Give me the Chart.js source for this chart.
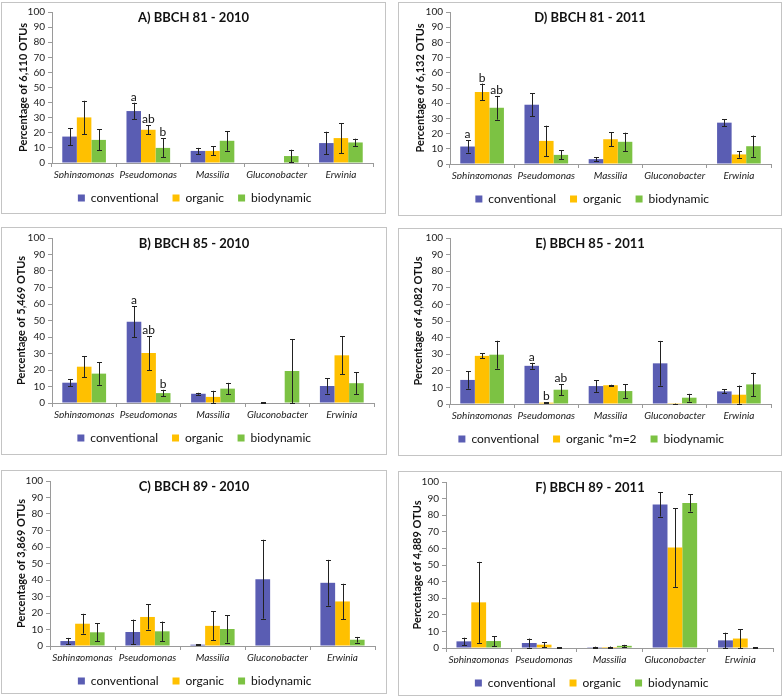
<!DOCTYPE html>
<html>
<head>
<meta charset="utf-8">
<script src="https://cdn.jsdelivr.net/npm/chart.js@4.4.1/dist/chart.umd.min.js"></script>
<style>
  body { margin: 0; background: #fff; width: 783px; height: 699px; position: relative; overflow: hidden; }
  .panel { position: absolute; border: 1px solid #c4c4c4; box-sizing: border-box; background: #fff; }
  .panel canvas { position: absolute; left: 0; top: 0; }
</style>
</head>
<body>
<script>
const categories = ['Sphingomonas', 'Pseudomonas', 'Massilia', 'Gluconobacter', 'Erwinia'];
const seriesNames = ['conventional', 'organic', 'biodynamic'];
const seriesNamesE = ['conventional', 'organic *m=2', 'biodynamic'];
const yTicks = [0, 10, 20, 30, 40, 50, 60, 70, 80, 90, 100];

// A) BBCH 81 - 2010
const convA = [17.5, 34.4, 8, 0, 13.2];
const orgA = [30.2, 22, 8, 0, 16.5];
const bioA = [15.3, 10, 14.7, 4.6, 13.6];
const convErrA = [5.7, 5.5, 2, 0, 7.5];
const orgErrA = [11, 3, 3, 0, 10];
const bioErrA = [7, 6.3, 6.5, 4.2, 2.5];
const lettersA = [null, ['a', 'ab', 'b'], null, null, null];

// D) BBCH 81 - 2011
const convD = [11.5, 39, 3.2, 0, 27.2];
const orgD = [47.4, 15.2, 16.3, 0, 6.3];
const bioD = [37, 6, 14.6, 0, 11.7];
const convErrD = [4, 7.5, 1.3, 0, 2.2];
const orgErrD = [5.5, 10, 4.5, 0, 2.2];
const bioErrD = [7.8, 3, 6, 0, 7];
const lettersD = [['a', 'b', 'ab'], null, null, null, null];

// B) BBCH 85 - 2010
const convB = [12.3, 49.3, 5.6, 0.3, 10.3];
const orgB = [22, 30.3, 3.7, 0, 28.9];
const bioB = [17.8, 6, 8.7, 19.4, 12];
const convErrB = [2, 9.3, 0.6, 0.3, 4.6];
const orgErrB = [6.5, 10.3, 3.7, 0, 11.5];
const bioErrB = [6.8, 2, 3.5, 19.4, 6.5];
const lettersB = [null, ['a', 'ab', 'b'], null, null, null];

// E) BBCH 85 - 2011
const convE = [14.5, 23, 10.8, 24.5, 7.6];
const orgE = [29, 0.8, 11.3, 0.1, 5.6];
const bioE = [29.7, 8.6, 7.8, 3.8, 11.8];
const convErrE = [5.3, 1.8, 3.5, 13.5, 1.2];
const orgErrE = [1.5, 0.2, 0.3, 0.1, 5.5];
const bioErrE = [8.4, 3.3, 4.2, 2.3, 7];
const lettersE = [null, ['a', 'b', 'ab'], null, null, null];

// C) BBCH 89 - 2010
const convC = [3, 8.5, 0.8, 40.5, 38.3];
const orgC = [13.5, 17.6, 12.2, 0, 27];
const bioC = [8.3, 8.9, 10.3, 0, 3.8];
const convErrC = [1.9, 7.5, 0.3, 23.9, 13.9];
const orgErrC = [6, 7.6, 8.8, 0, 10.7];
const bioErrC = [5.4, 5.9, 8.2, 0, 1.7];

// F) BBCH 89 - 2011
const convF = [4, 3, 0.5, 86.5, 4.6];
const orgF = [27.5, 2, 0.6, 60.5, 5.7];
const bioF = [4.2, 0.3, 1.3, 87.4, 0.3];
const convErrF = [2.2, 2.7, 0.3, 7.3, 4.6];
const orgErrF = [24.4, 1.4, 0.3, 23.7, 5.7];
const bioErrF = [3, 0.3, 0.6, 5.2, 0.3];

const colors = ['#5a5db3', '#ffc000', '#7cc243'];
const FONT = 'Lato, "Open Sans", sans-serif';

// box = outer frame on the page, plot = x0,x1,y0,y1 of the axes on the page
const panels = [
  { title: 'A) BBCH 81 - 2010', yTitle: 'Percentage of 6,110 OTUs', names: seriesNames,
    vals: [convA, orgA, bioA], errs: [convErrA, orgErrA, bioErrA], letters: lettersA,
    box: [1, 2, 385, 212], plot: [52, 373, 11, 163], yTitleX: 23 },
  { title: 'D) BBCH 81 - 2011', yTitle: 'Percentage of 6,132 OTUs', names: seriesNames,
    vals: [convD, orgD, bioD], errs: [convErrD, orgErrD, bioErrD], letters: lettersD,
    box: [398, 2, 384, 214], plot: [450, 771, 11, 164], yTitleX: 420 },
  { title: 'B) BBCH 85 - 2010', yTitle: 'Percentage of 5,469 OTUs', names: seriesNames,
    vals: [convB, orgB, bioB], errs: [convErrB, orgErrB, bioErrB], letters: lettersB,
    box: [1, 227, 386, 228], plot: [52, 374, 238, 403], yTitleX: 21 },
  { title: 'E) BBCH 85 - 2011', yTitle: 'Percentage of 4,082 OTUs', names: seriesNamesE,
    vals: [convE, orgE, bioE], errs: [convErrE, orgErrE, bioErrE], letters: lettersE,
    box: [398, 228, 384, 228], plot: [450, 771, 238, 404], yTitleX: 418 },
  { title: 'C) BBCH 89 - 2010', yTitle: 'Percentage of 3,869 OTUs', names: seriesNames,
    vals: [convC, orgC, bioC], errs: [convErrC, orgErrC, bioErrC], letters: null,
    box: [1, 470, 386, 224], plot: [50, 375, 481, 646], yTitleX: 21 },
  { title: 'F) BBCH 89 - 2011', yTitle: 'Percentage of 4,889 OTUs', names: seriesNames,
    vals: [convF, orgF, bioF], errs: [convErrF, orgErrF, bioErrF], letters: null,
    box: [398, 471, 384, 225], plot: [446, 773, 482, 648], yTitleX: 417 },
];

// error bars + significance letters
const errorBars = {
  id: 'errorBars',
  afterDatasetsDraw(chart, args, opts) {
    const { ctx, scales: { y } } = chart;
    ctx.save();
    ctx.strokeStyle = '#222';
    ctx.lineWidth = 1;
    chart.data.datasets.forEach((ds, i) => {
      const meta = chart.getDatasetMeta(i);
      meta.data.forEach((bar, j) => {
        const v = ds.data[j], e = opts.errs[i][j];
        if (!e) return;
        const top = y.getPixelForValue(v + e);
        const bot = y.getPixelForValue(Math.max(v - e, 0));
        const x = Math.round(bar.x) + 0.5;
        ctx.beginPath();
        ctx.moveTo(x, top); ctx.lineTo(x, bot);
        ctx.moveTo(x - 2.5, Math.round(top) + 0.5); ctx.lineTo(x + 2.5, Math.round(top) + 0.5);
        ctx.moveTo(x - 2.5, Math.round(bot) + 0.5); ctx.lineTo(x + 2.5, Math.round(bot) + 0.5);
        ctx.stroke();
      });
    });
    if (opts.letters) {
      ctx.fillStyle = '#111';
      ctx.font = '12px ' + FONT;
      ctx.textAlign = 'center';
      ctx.textBaseline = 'alphabetic';
      opts.letters.forEach((set, j) => {
        if (!set) return;
        set.forEach((txt, i) => {
          const bar = chart.getDatasetMeta(i).data[j];
          const top = y.getPixelForValue(chart.data.datasets[i].data[j] + opts.errs[i][j]);
          ctx.fillText(txt, bar.x, top - 2);
        });
      });
    }
    ctx.restore();
  }
};

const panelTitle = {
  id: 'panelTitle',
  afterDraw(chart, args, opts) {
    const { ctx, chartArea } = chart;
    ctx.save();
    ctx.fillStyle = '#111';
    ctx.font = 'bold 13px ' + FONT;
    ctx.textAlign = 'center';
    ctx.textBaseline = 'middle';
    ctx.fillText(opts.text, opts.x, chartArea.top + 6);
    ctx.restore();
  }
};

panels.forEach(p => {
  const [bx, by, bw, bh] = p.box;
  const [px0, px1, py0, py1] = p.plot;
  const W = bw - 2, H = bh - 2;
  const ox = bx + 1, oy = by + 1;
  const div = document.createElement('div');
  div.className = 'panel';
  Object.assign(div.style, { left: bx + 'px', top: by + 'px', width: bw + 'px', height: bh + 'px' });
  const canvas = document.createElement('canvas');
  canvas.width = W; canvas.height = H;
  div.appendChild(canvas);
  document.body.appendChild(div);

  const yLeft = p.yTitleX - ox - 6.6;
  const yAxisW = (px0 - ox) - yLeft;
  const xAxisH = 15, legendH = 12 + 14 + 10;
  const bottomPad = H - (py1 - oy) - xAxisH - legendH;

  new Chart(canvas, {
    type: 'bar',
    data: {
      labels: categories,
      datasets: p.vals.map((v, i) => ({
        label: p.names[i], data: v, backgroundColor: colors[i],
        categoryPercentage: 0.68, barPercentage: 1.0,
      })),
    },
    options: {
      responsive: false, animation: false, devicePixelRatio: 1,
      layout: { padding: { left: yLeft, top: py0 - oy, right: W - (px1 - ox), bottom: bottomPad } },
      scales: {
        x: {
          grid: { display: true, offset: true, drawOnChartArea: false, tickLength: 4, color: '#9a9a9a' },
          border: { color: '#9a9a9a' },
          ticks: { color: '#222', font: { family: FONT, size: 10, style: 'italic' }, padding: 2, maxRotation: 0, autoSkip: false },
          afterFit(s) { s.height = xAxisH; },
        },
        y: {
          min: 0, max: 100,
          afterBuildTicks(s) { s.ticks = yTicks.map(v => ({ value: v })); },
          grid: { display: true, drawOnChartArea: false, tickLength: 4, color: '#9a9a9a' },
          border: { color: '#9a9a9a' },
          ticks: { color: '#222', font: { family: FONT, size: 10 }, padding: 3 },
          title: { display: true, text: p.yTitle, color: '#111', font: { family: FONT, size: 11, weight: 'bold' }, padding: 0 },
          afterFit(s) { s.width = yAxisW; },
        },
      },
      plugins: {
        legend: {
          position: 'bottom',
          labels: { boxWidth: 7, boxHeight: 7, padding: 14, color: '#111', font: { family: FONT, size: 12 } },
        },
        tooltip: { enabled: false },
        errorBars: { errs: p.errs, letters: p.letters },
        panelTitle: { text: p.title, x: W / 2 },
      },
    },
    plugins: [errorBars, panelTitle],
  });
});
</script>
</body>
</html>
